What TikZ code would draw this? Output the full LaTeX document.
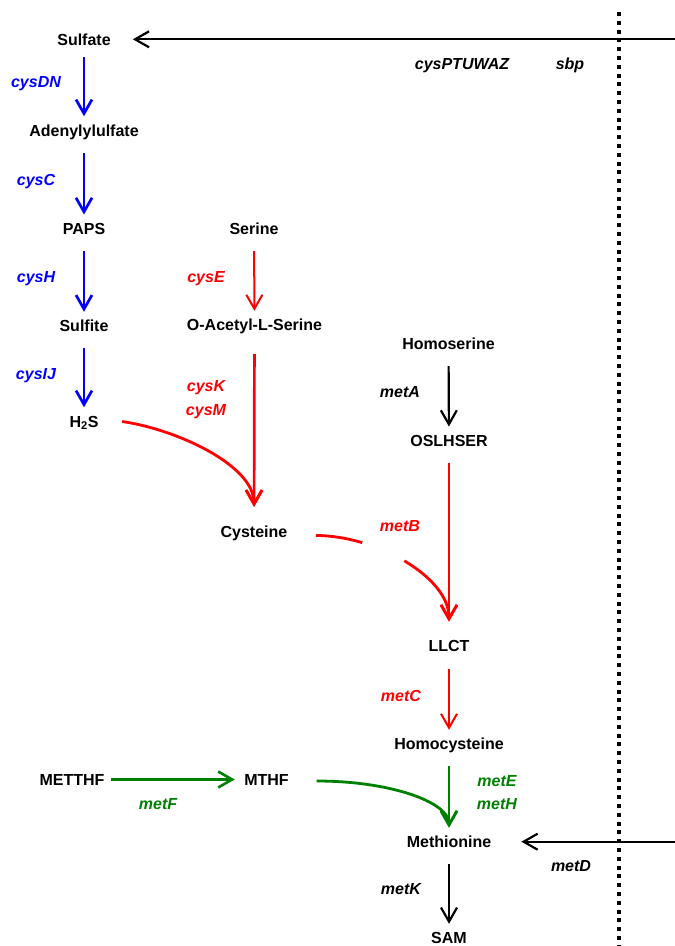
\documentclass[tikz,border=0pt]{standalone}
\usepackage{fontspec}
\setmainfont{Liberation Sans}
\usetikzlibrary{arrows.meta}
\definecolor{pblue}{RGB}{0,0,255}
\definecolor{pred}{RGB}{255,0,0}
\definecolor{pgreen}{RGB}{0,128,0}

\begin{document}
\begin{tikzpicture}[x=1pt,y=-1pt,
  met/.style={font=\bfseries\fontsize{16}{16}\selectfont, text height=11.5pt, text depth=0pt,
              inner xsep=4pt, inner ysep=8.25pt},
  gene/.style={font=\bfseries\itshape\fontsize{16}{16}\selectfont, text height=11.5pt,
               text depth=0pt, inner sep=0pt},
  rxn/.style={-{Straight Barb[length=14pt,width=16pt]}, shorten <=8pt},
  sulfur/.style={rxn, pblue, line width=2.7pt},
  cys/.style={rxn, pred, line width=2pt},
  plain/.style={rxn, black, line width=2.2pt},
  folate/.style={rxn, pgreen, line width=2.6pt},
  membrane/.style={line width=3.8pt, dash pattern=on 4pt off 4.8pt}
]
\useasboundingbox (0,0) rectangle (675,946);

% metabolites
\node[met] (sulfate)  at (84,39.3)   {Sulfate};
\node[met] (aps)      at (84,130.5)  {Adenylylulfate};
\node[met] (paps)     at (84,228.7)  {PAPS};
\node[met] (sulfite)  at (84,326)    {Sulfite};
\node[met] (hs)       at (84,421.5)  {H\textsubscript{2}S};
\node[met] (serine)   at (254,229)   {Serine};
\node[met] (oas)      at (254.5,325) {O-Acetyl-L-Serine};
\node[met] (cysteine) at (254,531.5) {Cysteine};
\node[met] (homoser)  at (448.5,344) {Homoserine};
\node[met] (oslhser)  at (449,440.7) {OSLHSER};
\node[met] (llct)     at (449,646)   {LLCT};
\node[met] (homocys)  at (449,744)   {Homocysteine};
\node[met] (methion)  at (449,841.7) {Methionine};
\node[met] (sam)      at (449,938)   {SAM};
\node[met] (metthf)   at (72,779.5)  {METTHF};
\node[met] (mthf)     at (266.5,779.5) {MTHF};

% gene labels
\node[gene, pblue] (gDN)  at (36,81.5)   {cysDN};
\node[gene, pblue] (gC)   at (36,179.5)  {cysC};
\node[gene, pblue] (gH)   at (36,276.5)  {cysH};
\node[gene, pblue] (gIJ)  at (36,374)    {cysIJ};
\node[gene, pred]  (gE)   at (206,276.5) {cysE};
\node[gene, pred]  (gK)   at (206,385.5) {cysK};
\node[gene, pred]  (gM)   at (206,409.5) {cysM};
\node[gene]        (gA)   at (400,392)   {metA};
\node[gene, pred]  (gB)   at (400,526)   {metB};
\node[gene, pred]  (gMC)  at (401,695.5) {metC};
\node[gene, pgreen] (gME) at (497,780.5) {metE};
\node[gene, pgreen] (gMH) at (497,804)   {metH};
\node[gene, pgreen] (gF)  at (158,804)   {metF};
\node[gene]        (gMK)  at (401,889)   {metK};
\node[gene]        (gD)   at (571,866)   {metD};
\node[gene]        (gT)   at (462,63.5)  {cysPTUWAZ};
\node[gene]        (gS)   at (570,63.5)  {sbp};

% cell membrane
\coordinate (memtop) at (619,12);
\coordinate (membot) at (619,946);
\draw[membrane] (memtop) -- (membot);

% uptake from outside
\coordinate (sulfin) at (675,39.3);
\coordinate (metin)  at (675,841.7);
\draw[plain, shorten <=0pt, shorten >=18pt] (sulfin) -- (sulfate.east);
\draw[plain, shorten <=0pt, shorten >=26pt] (metin) -- (methion.east);

% sulfate assimilation
\draw[sulfur, shorten <=3.7pt] (sulfate) -- (aps);
\draw[sulfur] (aps) -- (paps);
\draw[sulfur] (paps) -- (sulfite);
\draw[sulfur] (sulfite) -- (hs);

% cysteine synthesis
\draw[cys] (serine) -- (oas);
\draw[cys, line width=2.7pt, shorten <=15pt, shorten >=10.5pt] (oas) -- (cysteine);
\draw[cys, line width=2.8pt, shorten <=0pt, shorten >=10.5pt]
  ([xshift=19.5pt]hs.east) .. controls +(55,8) and +(0,-52) .. (cysteine.north);

% methionine branch
\draw[plain] (homoser) -- (oslhser);
\draw[cys, line width=2.2pt, shorten >=10.3pt] (oslhser) -- (llct);
\draw[cys, line width=2.8pt, shorten <=0pt, shorten >=10.3pt, dash pattern=on 47pt off 46pt on 400pt]
  ([xshift=24.4pt,yshift=-4pt]cysteine.east) .. controls +(60,0) and +(0,-55) .. (llct.north);
\draw[cys, shorten <=9pt] (llct) -- (homocys);
\draw[folate, line width=1.8pt] (homocys) -- (methion);
\draw[folate, shorten <=2.6pt, shorten >=5.3pt] (metthf) -- (mthf);
\draw[folate, line width=2.8pt, shorten <=0pt]
  ([xshift=23.7pt,yshift=-1.5pt]mthf.east) .. controls +(75,0) and +(0,-25) .. (methion.north);
\draw[plain] (methion) -- (sam);

\end{tikzpicture}
\end{document}
